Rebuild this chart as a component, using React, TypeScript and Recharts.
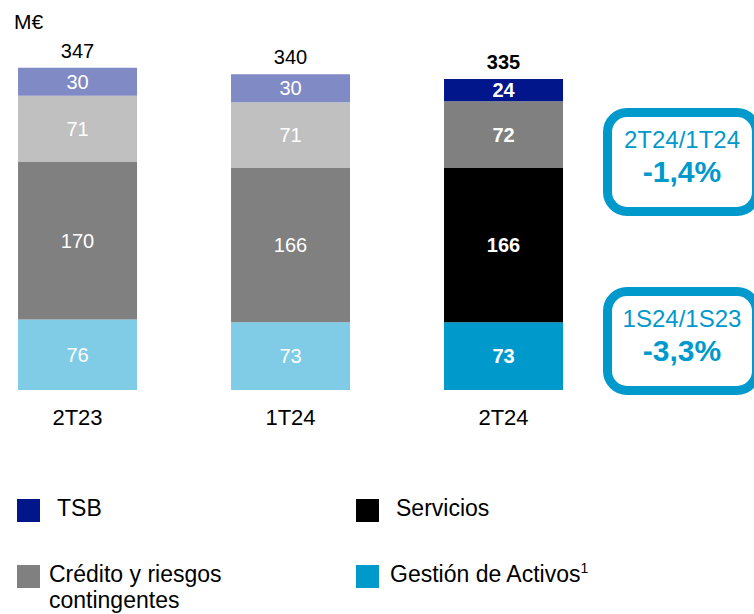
import React from "react";
import { BarChart, Bar, XAxis, YAxis, Cell, LabelList } from "recharts";

// Trimestres y valores (M€), de abajo arriba en cada columna
const categories = ["2T23", "1T24", "2T24"];
const gestionActivos = [76, 73, 73];
const servicios = [170, 166, 166];
const creditoRiesgos = [71, 71, 72];
const tsb = [30, 30, 24];
const totals = [347, 340, 335];

const CURRENT = 2; // la última columna va con colores plenos

const FONT = "'Liberation Sans', Arial, sans-serif";
const BOX_BLUE = "#0099CC";

// orden de apilado: primero = abajo
const SERIES = [
  { key: "gestion", name: "Gestión de Activos", values: gestionActivos, color: "#0099CC", faded: "#80CCE6" },
  { key: "servicios", name: "Servicios", values: servicios, color: "#000000", faded: "#808080" },
  { key: "credito", name: "Crédito y riesgos contingentes", values: creditoRiesgos, color: "#808080", faded: "#C0C0C0" },
  { key: "tsb", name: "TSB", values: tsb, color: "#00168A", faded: "#808AC4" },
];

const data = categories.map((cat, i) => {
  const row: any = { idx: i, cat, total: totals[i] };
  SERIES.forEach((s) => (row[s.key] = s.values[i]));
  return row;
});

const SegmentLabel = (props: any) => {
  const { x, y, width, height, value, index } = props;
  return (
    <text
      x={x + width / 2}
      y={y + height / 2}
      dy={7}
      textAnchor="middle"
      fill="#fff"
      fontFamily={FONT}
      fontSize={20}
      fontWeight={index === CURRENT ? "bold" : "normal"}
    >
      {value}
    </text>
  );
};

const TotalLabel = (props: any) => {
  const { x, y, width, value, index } = props;
  return (
    <text
      x={x + width / 2}
      y={y - 10}
      textAnchor="middle"
      fill="#000"
      fontFamily={FONT}
      fontSize={20}
      fontWeight={index === CURRENT ? "bold" : "normal"}
    >
      {value}
    </text>
  );
};

const CategoryTick = (props: any) => {
  const { x, y, payload } = props;
  return (
    <text x={x} y={y} dy={35} textAnchor="middle" fill="#000" fontFamily={FONT} fontSize={22}>
      {categories[payload.value]}
    </text>
  );
};

function VariationBox({ top, title, value }: { top: number; title: string; value: string }) {
  return (
    <div
      style={{
        position: "absolute",
        left: 603,
        top,
        width: 158,
        height: 108,
        boxSizing: "border-box",
        border: `9px solid ${BOX_BLUE}`,
        borderRadius: 24,
        background: "#fff",
        color: BOX_BLUE,
        fontFamily: FONT,
        textAlign: "center",
      }}
    >
      <div style={{ position: "absolute", left: 0, right: 0, top: 11, fontSize: 24, lineHeight: "24px" }}>{title}</div>
      <div style={{ position: "absolute", left: 0, right: 0, top: 40, fontSize: 30, lineHeight: "30px", fontWeight: "bold" }}>
        {value}
      </div>
    </div>
  );
}

// leyenda en dos columnas: TSB / Servicios arriba, Crédito / Gestión abajo
const LEGEND_ORDER = ["tsb", "servicios", "credito", "gestion"];

function ChartLegend() {
  return (
    <>
      {LEGEND_ORDER.map((key, i) => {
        const s = SERIES.find((d) => d.key === key)!;
        const col = i % 2;
        const row = Math.floor(i / 2);
        const left = col === 0 ? 17 : 356;
        const top = row === 0 ? 499 : 565;
        const gap = row === 0 ? 17 : col === 0 ? 9 : 11;
        return (
          <div key={key}>
            <div style={{ position: "absolute", left, top, width: 23, height: 23, background: s.color }} />
            <div
              style={{
                position: "absolute",
                left: left + 23 + gap,
                top: top - 4,
                width: 210,
                fontFamily: FONT,
                fontSize: 23,
                lineHeight: "26px",
                color: "#000",
              }}
            >
              {s.name}
              {key === "gestion" && <sup style={{ fontSize: 14, verticalAlign: "9px", lineHeight: 0 }}>1</sup>}
            </div>
          </div>
        );
      })}
    </>
  );
}

export default function App() {
  return (
    <div
      style={{
        position: "absolute",
        left: 0,
        top: 0,
        width: 754,
        height: 614,
        overflow: "hidden",
        background: "#fff",
      }}
    >
      <div style={{ position: "absolute", left: 14, top: 11, fontFamily: FONT, fontSize: 21, lineHeight: "21px" }}>M€</div>
      <BarChart width={754} height={614} data={data} margin={{ top: 0, right: 0, bottom: 0, left: 0 }}>
        <XAxis
          dataKey="idx"
          type="number"
          domain={[-0.364, 3.176]}
          allowDataOverflow
          ticks={[0, 1, 2]}
          axisLine={false}
          tickLine={false}
          tickSize={0}
          tickMargin={0}
          height={224}
          tick={<CategoryTick />}
        />
        <YAxis hide domain={[0, 420]} allowDataOverflow />
        {SERIES.map((s, si) => (
          <Bar key={s.key} dataKey={s.key} stackId="a" barSize={119} isAnimationActive={false}>
            {data.map((_, i) => (
              <Cell key={`c-${i}`} fill={i === CURRENT ? s.color : s.faded} />
            ))}
            <LabelList dataKey={s.key} content={<SegmentLabel />} />
            {si === SERIES.length - 1 && <LabelList dataKey="total" content={<TotalLabel />} />}
          </Bar>
        ))}
      </BarChart>
      <VariationBox top={108} title="2T24/1T24" value="-1,4%" />
      <VariationBox top={287} title="1S24/1S23" value="-3,3%" />
      <ChartLegend />
    </div>
  );
}
